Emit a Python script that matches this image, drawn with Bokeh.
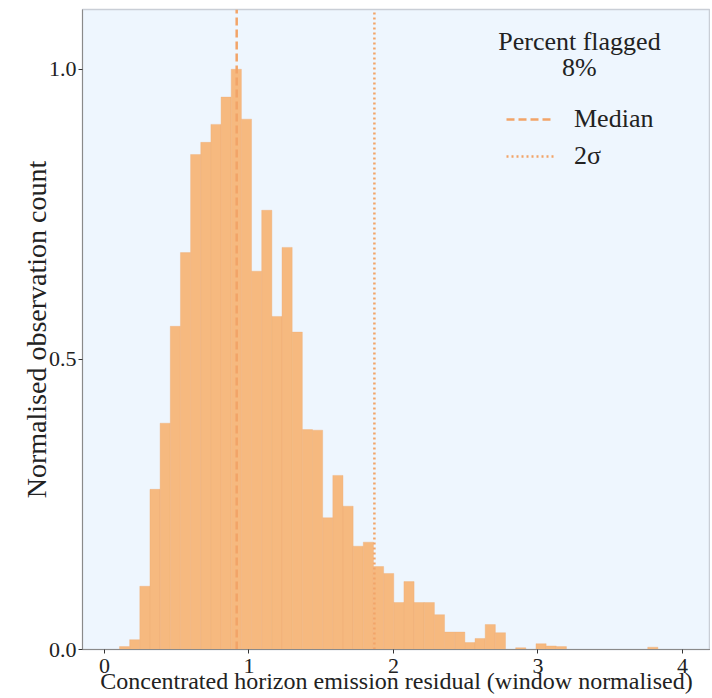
import numpy as np
from bokeh.plotting import figure
from bokeh.models import Legend, LegendItem, Label, Range1d, CustomJSTickFormatter
from bokeh.embed import file_html
from bokeh.resources import INLINE

# ---- data ----
bin_start = 0.104
bin_width = 0.0703
counts = [0.005, 0.017, 0.109, 0.276, 0.390, 0.557, 0.684, 0.853, 0.874, 0.905,
          0.952, 1.000, 0.914, 0.652, 0.757, 0.574, 0.693, 0.547, 0.379, 0.378,
          0.227, 0.300, 0.247, 0.178, 0.185, 0.143, 0.131, 0.081, 0.117, 0.081,
          0.081, 0.060, 0.030, 0.030, 0.012, 0.019, 0.043, 0.029, 0.0, 0.003,
          0.0, 0.010, 0.006, 0.005, 0.0, 0.0, 0.0, 0.0, 0.0, 0.0,
          0.0, 0.0, 0.004]
median_value = 0.915
two_sigma_value = 1.868
percent_flagged = "8%"
x_ticks = [0, 1, 2, 3, 4]
y_ticks = [0.0, 0.5, 1.0]

edges = bin_start + bin_width * np.arange(len(counts) + 1)

FONT = "Liberation Serif"
BAR = "#f6b97f"
LINE = "#f2a468"
Y_END = 1.103

p = figure(frame_width=628, frame_height=640, output_backend="svg", toolbar_location=None,
           x_range=Range1d(-0.152, 4.194), y_range=Range1d(0, Y_END),
           min_border_left=82, min_border_right=0, min_border_top=9, min_border_bottom=0)

p.background_fill_color = "#eef6fe"
p.border_fill_color = "white"
p.outline_line_color = "#c9ced6"
p.outline_line_width = 1.5
p.grid.visible = False

p.quad(left=edges[:-1], right=edges[1:], top=counts, bottom=0,
       fill_color=BAR, line_color="#eeab72", line_width=0.6, line_alpha=0.6)

med = p.segment(x0=[median_value], x1=[median_value], y0=[0], y1=[Y_END],
                line_color=LINE, line_width=2.5, line_dash="8 4")
sig = p.segment(x0=[two_sigma_value], x1=[two_sigma_value], y0=[0], y1=[Y_END],
                line_color=LINE, line_width=2.5, line_dash="2 3")

for ax in (p.xaxis, p.yaxis):
    ax.axis_label_text_font = FONT
    ax.axis_label_text_font_style = "normal"
    ax.axis_label_text_font_size = "24px"
    ax.axis_label_text_color = "#222222"
    ax.major_label_text_font = FONT
    ax.major_label_text_font_size = "22px"
    ax.major_label_text_color = "#222222"
    ax.minor_tick_line_color = None
    ax.major_tick_in = 0
    ax.major_tick_out = 4
    ax.major_tick_line_color = "#333333"
    ax.axis_line_color = "#8a8a8a"

p.yaxis.axis_label_text_font_size = "28px"
p.xaxis.ticker = x_ticks
p.yaxis.ticker = y_ticks
p.yaxis.formatter = CustomJSTickFormatter(code="return tick.toFixed(1);")
p.xaxis.major_label_standoff = 5
p.xaxis.axis_label_standoff = -8
p.yaxis.major_label_standoff = 2
p.yaxis.axis_label_standoff = -6
p.xaxis.axis_label = "Concentrated horizon emission residual (window normalised)"
p.yaxis.axis_label = "Normalised observation count"

legend = Legend(items=[LegendItem(label="Median", renderers=[med]),
                       LegendItem(label="2σ", renderers=[sig])],
                location=(424, 478), orientation="vertical",
                padding=0, margin=0, spacing=7,
                glyph_width=48, glyph_height=30, label_height=30,
                label_standoff=20, border_line_color=None,
                background_fill_alpha=0,
                label_text_font=FONT, label_text_font_size="26px",
                label_text_color="#222222")
p.add_layout(legend)

title_x = 3.287
p.add_layout(Label(x=title_x, y=1.048, text="Percent flagged", text_align="center",
                   text_baseline="middle", text_font=FONT, text_font_size="26px",
                   text_color="#222222"))
p.add_layout(Label(x=title_x, y=1.003, text=percent_flagged, text_align="center",
                   text_baseline="middle", text_font=FONT, text_font_size="26px",
                   text_color="#222222"))

open("out.html", "w").write(file_html(p, INLINE))
